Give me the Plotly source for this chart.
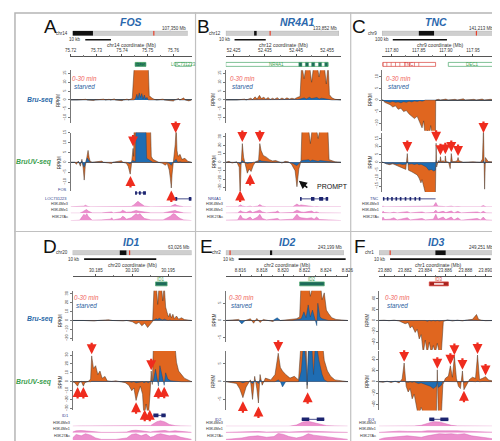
import plotly.graph_objects as go

FONT = "Liberation Sans, Arial, sans-serif"

# ======================= DATA =======================
letters = ["A", "B", "C", "D", "E", "F"]
gene_titles = ["FOS", "NR4A1", "TNC", "ID1", "ID2", "ID3"]
chrom_names = ["chr14", "chr12", "chr9", "chr20", "chr2", "chr1"]
chrom_len_mb = [107.350, 133.852, 141.213, 63.026, 243.199, 249.251]
chrom_len_labels = ["107,350 Mb", "133,852 Mb", "141,213 Mb", "63,026 Mb", "243,199 Mb", "249,251 Mb"]
centromere_mb = [(0.0, 19.0), (33.5, 36.5), (46.0, 65.0), (25.0, 28.5), (91.0, 95.5), (121.0, 143.0)]
gene_pos_mb = [75.747, 52.44, 117.83, 30.194, 8.823, 23.885]
window_start_mb = [75.720, 52.4225, 117.782, 30.18176, 8.81464, 23.87942]
window_kb = [47.1, 36.9, 212.6, 16.5, 11.4, 11.75]
scale_bar_kb = [10, 10, 100, 10, 10, 10]
scale_bar_start_kb = [5.7, 2.8, 20.0, 1.6, 1.2, 1.1]
tick_labels = [
    ["75.72", "75.73", "75.74", "75.75", "75.76"],
    ["52.425", "52.435", "52.445", "52.455"],
    ["117.80", "117.85", "117.90", "117.95"],
    ["30.185", "30.190", "30.195"],
    ["8.816", "8.818", "8.820", "8.822", "8.824", "8.826"],
    ["23.880", "23.882", "23.884", "23.886", "23.888", "23.890"],
]

# gene annotation track (top): (name, start kb, end kb)
top_genes = [
    [("FOS", 25.1, 29.3), ("LOC731223", 40.7, 47.1)],
    [("NR4A1", 0.0, 32.8)],
    [("TNC", 1.8, 99.0), ("DEC1", 122.5, 212.6)],
    [("ID1", 11.5, 13.1)],
    [("ID2", 6.9, 9.2)],
    [("ID3", 5.0, 6.9)],
]
nr4a1_exon_kb = [23.9, 26.0, 28.0, 30.2, 32.2]

# RefSeq gene models: (name, start kb, end kb, exons)
refseq = [
    [("FOS", 25.1, 29.3, [(25.1, 25.8), (26.6, 27.3), (28.2, 29.3)]),
     ("LOC731223", 40.7, 47.1, [(40.7, 41.5), (46.0, 47.1)])],
    [("NR4A1", 23.8, 32.8, [(23.8, 24.3), (27.3, 28.4), (29.9, 31.2), (32.0, 32.8)])],
    [("TNC", 1.8, 99.0, [(1.8, 4.5), (9, 12), (17, 20), (25, 28), (33, 36), (42, 45), (51, 54), (60, 63), (68, 71)])],
    [("ID1", 11.2, 12.9, [(11.2, 11.9), (12.3, 12.9)])],
    [("ID2", 7.1, 9.2, [(7.1, 7.8), (8.5, 9.2)])],
    [("ID3", 5.0, 6.9, [(5.0, 5.5), (6.1, 6.9)])],
]

# Bru-seq tracks: (kb, 0-30 min, starved)
A_bru = [(0,0,0),(2,0.3,0),(2.5,0,0),(6,0.4,0),(6.5,0,0),(9,-0.3,0),(9.5,0,0),(13,0.5,0),(13.5,0,0),(15,0.4,0),(15.5,0,0),
         (17,0.6,0.3),(17.5,0,0),(20,-0.4,0),(20.5,0,0),(22,0.5,0),(22.5,0,0),(24,0.8,0),(24.8,20,0),(25.3,20,1.0),(25.8,20,3.2),
         (26.2,20,0.8),(26.7,20,4.0),(27.2,20,1.5),(27.7,20,3.6),(28.2,20,0.6),(28.7,20,2.8),(29.2,20,0.5),(29.7,20,1.5),(30.2,20,0),
         (30.6,2.5,0),(31.5,1.2,0),(32.5,0.4,0),(33.5,0,0),(36,0.5,0),(36.5,0,0),(40,-0.6,-0.3),(40.5,0,0),(42,0.8,0.3),(42.5,0,0),
         (44,1.2,0),(44.6,0,0),(46,-0.5,0),(47.1,0,0)]
B_bru = [(0,0,0),(3,-0.3,0),(3.5,0,0),(6,0.5,0),(6.5,0,0),(8,1.0,0.2),(8.6,0.3,0),(9.4,1.8,0),(10,0.5,0),(10.8,2.6,0.3),(11.4,0.8,0),
         (12.2,1.6,0),(12.8,0.4,0),(13.6,1.4,0.2),(14.2,0.3,0),(15,1.0,0),(15.6,0.4,0),(16.5,1.3,0),(17.2,0.3,0),(18,1.1,0.2),(18.8,0.4,0),
         (19.6,1.2,0),(20.4,0.5,0),(21.2,1.0,0),(22,0.6,0),(23,1.5,0.3),(23.8,2.0,0.5),(24.3,20,0.8),(25.1,12,1.2),(25.8,20,0.6),
         (26.8,20,1.5),(27.5,10,0.8),(28.2,20,1.0),(29.2,20,1.4),(29.9,13,0.6),(30.6,20,1.0),(31.5,20,0.8),(32.2,9,0.5),(32.8,20,0.6),
         (33.2,3,0.2),(34,1.2,0),(35,0.4,0),(36.9,0,0)]
C_bru = [(0,0,0),(2,0,0),(5,-1,-0.5),(10,-1.5,-0.8),(15,-2,-1),(20,-3,-0.6),(25,-2.5,-1),(30,-4,-0.8),(35,-3.5,-1.2),(40,-5,-0.7),
         (45,-4.5,-1),(50,-6,-0.5),(55,-7,-0.8),(60,-8,-0.4),(65,-7,-0.6),(70,-10,-0.3),(74,-12,-0.5),(77,-9,-0.3),(80,-16,0),
         (84,-13,0),(87,-16,0),(90,-11,0),(93,-16,0),(96,-16,0),(98.8,-16,0),(99.2,0,0),(104,0.3,0.1),(108,0,0),(118,0.4,0.1),
         (122,0,0),(135,0.3,0),(139,0,0),(150,0.5,0.2),(154,0,0),(170,0.3,0),(174,0,0),(185,0.4,0.1),(189,0,0),(200,0.3,0),(212.6,0,0)]
D_bru = [(0,0,0),(1,0.5,0),(1.5,0,0),(3,-0.6,0),(3.5,0,0),(5,0.8,0.3),(5.5,0,0),(7,-0.5,0),(7.5,0,0),(8.3,-1.5,0),(8.8,-4,-0.5),
         (9.2,-2,0),(9.6,-6,-0.3),(10,-3,0),(10.4,-8,-0.5),(10.8,-4,0),(11.1,-1,0),(11.3,40,0.5),(11.6,40,2),(11.8,18,1),(12.0,40,2.5),
         (12.3,40,1),(12.5,22,0.5),(12.7,40,1.5),(12.9,15,0.5),(13.1,9,0.3),(13.3,4,0),(13.5,8,0.5),(13.7,3,0),(13.9,7,0.3),(14.1,2,0),
         (14.4,5,0),(14.7,1.5,0),(15.1,3,0),(15.5,1,0),(16,0.5,0),(16.5,0,0)]
E_bru = [(0,0,0),(1.2,0.3,0),(1.5,-0.4,-1.0),(1.8,0,0),(2.3,0.5,0),(2.6,-0.8,0),(2.9,0.6,0.2),(3.2,-0.6,0),(3.5,0.3,0),(4.4,-0.3,0),
         (4.8,0.4,0.8),(5.1,0,0),(6.2,0.3,0),(6.6,0.5,0.2),(6.9,1,0.3),(7.05,12,0.5),(7.3,12,2.5),(7.5,12,0.8),(7.7,12,4.5),(7.9,7,1),
         (8.1,12,3),(8.3,12,0.5),(8.5,12,-1.5),(8.6,9,5),(8.8,12,1),(9.0,6,0.5),(9.2,8,0.3),(9.4,3,0),(9.6,2,0),(9.9,0.8,0),(10.3,0.3,0),
         (11.4,0,0)]
F_bru = [(0,0,0),(0.5,0.5,0),(1,-0.5,0),(1.5,0.6,0.3),(2,-1,0),(2.3,-3,-0.5),(2.6,-6,-0.5),(2.9,-4,0),(3.1,-14,-1),(3.3,-10,0),
         (3.6,-22,-1),(3.8,-16,0),(4.0,-34,-1),(4.2,-26,0),(4.4,-60,-1),(4.6,-36,0),(4.8,-60,-1.5),(5.0,-40,0),(5.2,-60,-1),(5.4,-46,0),
         (5.6,-60,-1),(5.8,-42,0),(6.0,-60,-1),(6.2,-60,0),(6.4,-2,0),(6.8,1,0.5),(7.3,-1,0),(7.8,0.5,0.3),(8.3,-0.8,0),(8.8,1,0.5),
         (9.3,2,1),(9.7,11,0.5),(9.9,2,0),(10.2,0.5,0.3),(10.6,-0.5,0),(11.75,0,0)]

# BruUV-seq tracks: (kb, 0-30 min, starved)
A_uv = [(0,0,0),(1.5,0,0),(2.3,-1.0,0),(3.0,0.6,0),(3.8,-2,-0.8),(4.4,1.5,0.6),(4.9,-3,-1.5),(5.3,-9,-2.5),(5.7,-2,-0.5),(6.1,1,0.8),
        (6.5,3,2.2),(6.8,6,1.5),(7.2,2.5,0.5),(7.6,0.5,0),(8.4,0,0),(12.2,0.6,0),(12.7,0,0),(16,-0.6,0),(16.5,0,0),(19.8,0.8,0.3),
        (20.3,0,0),(21.7,-0.5,0),(22.4,-2,-0.3),(22.8,-4,-0.5),(23.2,-6,-0.8),(23.6,-2,0),(24.0,2,0.5),(24.3,7,1),(24.55,3,0.5),
        (24.7,18,0.5),(25.3,18,0.5),(25.4,18,18),(29.3,18,18),(29.6,18,2),(31.1,18,1),(31.4,3,0.5),(32,1.5,0),(33.1,0.8,0),(34.2,0,0),
        (35.7,-0.5,0),(36.9,-1.5,-0.3),(37.6,-0.5,0),(38.4,-4,-0.5),(38.8,-8,-1),(39.2,-13,-1.5),(39.5,-6,-0.5),(39.9,-2,0),(40.3,3,0.5),
        (40.7,9,1),(41.1,18,1.5),(41.4,6,0.5),(41.8,3,0),(42.6,4,0.3),(43.3,1.5,0),(44.5,2,0),(45.6,0.5,0),(47.1,0,0)]
B_uv = [(0,0,0),(1,1,0),(2,-1,0),(3.5,0.5,0),(4.3,-6,-1),(4.6,-40,-2.5),(4.9,-4,-0.5),(5.3,22,2),(5.7,6,0.5),(6.3,-4,-0.5),
        (6.9,-13,-1.5),(7.5,-8,-0.8),(8.1,-11,-1),(8.8,-4,0),(9.5,0.5,0),(10.5,2,0.5),(10.9,22,2.5),(11.3,14,1.5),(12,8,1),(13,6,0.5),
        (14,3,0.5),(15,1.5,0),(16,2,0.3),(17,0.5,0),(18,-1,0),(19,1,0),(20,0.5,0),(21,-2,-0.5),(21.6,-6,-1.5),(22.2,-10,-3),
        (22.8,-29,-4),(23.4,-8,-1.5),(23.8,-3,-0.5),(24.1,2,0.5),(24.4,40,2),(26.5,40,3),(27.1,22,1.5),(27.7,40,2.5),(29,40,1.5),
        (29.6,28,1),(30.2,40,2),(32.7,40,1),(33.1,3,0.3),(34,1.5,0),(35,0.5,0),(36.9,0,0)]
C_uv = [(0,0,0),(1.8,0,0),(8,-1,-0.8),(14,-1.5,-1),(20,-1,-0.6),(27,-2,-1.2),(32,-3,-1),(38,-3.5,-1.4),(44,-4.5,-1.2),(46.8,5.5,0.5),
        (49,-5,-1.3),(55,-6,-1),(60,-7,-1.4),(65,-8,-1),(68.5,-10,-1.6),(72,-13,-1.2),(74,-11,-1.5),(77.5,-16,-2),(82,-22,-3),
        (86.5,-19,-5),(91,-22,-4.5),(95.5,-22,-5.5),(98.6,-22,-5),(99.4,-3,-0.5),(100,12,1),(100.9,-3,-0.3),(104,1,0),(107,0.5,0),
        (108,3.5,0.3),(109.5,0.5,0),(113,1,0),(116,0,0),(117,4,0.3),(118.5,0.5,0),(123,0,0),(126,-4,-0.5),(128,5.5,0.5),(130,0.5,0),
        (135,0.5,0),(139,1,0),(140.5,3,0.3),(142,1,0),(150,0,0),(168,0.3,0),(182,0,0),(185.5,2,0),(187.4,22,1),(189.5,-17,-1),
        (191,3,0),(196,0.5,0),(212.6,0,0)]
D_uv = [(0,0,0),(0.3,-1,0),(0.7,-5,-0.5),(0.9,-1,0),(1.2,0.5,0),(1.5,-5,-0.5),(1.7,-1,0),(2.2,0.5,0),(2.5,3,0),(2.65,29,0.5),
        (2.9,15,0.5),(3.2,18,0.3),(3.5,8,0),(3.8,12,0),(4.1,4,0),(4.5,6,0),(4.8,1,0),(5.4,0.5,0),(6,1,0),(6.5,0,0),(7.3,-1,0),
        (7.8,-4,0),(8.2,-10,-0.5),(8.5,-7,0),(8.8,-21,-1),(9.1,-12,-0.5),(9.4,-5,0),(9.7,-14,0),(9.9,-40,-1),(10.2,-25,0),
        (10.5,-40,-1),(10.75,-12,0),(10.9,12,1),(11.05,-3,0),(11.2,40,1),(11.5,40,14),(11.7,40,6),(11.9,40,-5),(12.1,40,18),
        (12.4,40,8),(12.7,40,-4),(12.9,40,10),(13.2,40,3),(13.6,40,1),(14.2,40,0.5),(14.4,22,0),(14.7,12,0),(15.1,8,0),(15.5,4,0),
        (16,2,0),(16.5,0,0)]
E_uv = [(0,0,0),(1.0,-0.5,0),(1.3,-2,0),(1.6,-4.5,-0.3),(1.9,-1.5,0),(2.3,0.5,0),(2.5,-5,-0.5),(2.7,1.5,0.3),(2.9,-2,0),
        (3.05,-6,-0.5),(3.2,2,0.5),(3.4,-1,0),(3.7,1,0),(4.2,0.5,0),(4.6,2,0),(4.9,8,0.5),(5.1,4,0),(5.3,3,-1.5),(5.6,2,0),(6.0,1,0),
        (6.4,1.5,0),(6.8,0.5,0),(7.05,12,3),(7.3,12,12),(7.5,12,5),(7.6,-2,-1),(7.75,12,10),(8.0,12,12),(8.2,12,2),(8.4,12,12),
        (8.7,12,6),(9.0,12,2),(9.2,6,0.5),(9.5,3,0),(9.8,1.5,0),(10.2,0.5,0),(11.4,0,0)]
F_uv = [(0,0,0),(0.4,-1,0),(0.8,1,0),(1.2,-1.5,0),(1.6,1,0.5),(2.0,-2,0),(2.3,5,0),(2.5,33,1),(2.7,-8,-0.5),(2.9,-18,-1),
        (3.1,-12,0),(3.3,-30,-1),(3.5,-22,0),(3.7,-40,-2),(3.9,-60,-3),(4.2,-45,-2),(4.5,-60,-4),(4.8,-55,-6),(5.1,-60,-8),
        (5.4,-60,-12),(5.7,-60,-8),(5.8,21,1),(5.9,-60,-10),(6.2,-60,-6),(6.35,-5,0),(6.6,6,0.5),(6.9,10,0.5),(7.1,28,1),(7.3,8,0.5),
        (7.5,45,1),(7.7,6,0),(7.9,-8,0),(8.1,-12,-0.5),(8.3,19,1),(8.45,-14,-1),(8.7,-6,0),(9.0,4,0.5),(9.3,8,0.5),(9.6,6,0),
        (9.8,47,1),(10.0,4,0),(10.3,6,0.5),(10.6,9,0.5),(10.9,3,0),(11.3,1,0),(11.75,0,0)]

# histone ChIP tracks: (kb, H3K4Me3, H3K4Me1, H3K27Ac)
A_hist = [(0,0,0,0),(3.5,0,0,0.05),(4.6,0.05,0.2,0.6),(5.2,0.1,0.4,0.9),(5.7,0.25,0.5,0.7),(6.3,0.1,0.6,1.0),(6.8,0.05,0.35,0.6),
          (7.6,0,0.2,0.3),(8.4,0,0.05,0.05),(12,0,0.05,0.1),(15.5,0,0.1,0.2),(16,0.1,0.2,0.4),(16.6,0,0.05,0.1),(19.5,0,0.2,0.3),
          (20.2,0.05,0.5,0.6),(20.9,0.05,0.3,0.5),(21.7,0,0.15,0.2),(23.6,0.05,0.2,0.4),(24.6,0.3,0.3,0.7),(25.5,0.7,0.45,1.0),
          (26.2,0.9,0.35,0.8),(27,0.6,0.3,1.0),(27.8,0.35,0.2,0.6),(28.8,0.1,0.1,0.3),(31.2,0,0.05,0.1),(36,0,0.05,0.1),
          (38.8,0.05,0.3,0.6),(39.9,0.25,0.5,1.0),(40.7,0.4,0.45,0.9),(41.4,0.2,0.3,0.6),(42.6,0.05,0.15,0.3),(44,0,0.05,0.1),(47.1,0,0,0)]
B_hist = [(0,0,0,0.05),(3.8,0,0.05,0.1),(4.7,0.3,0.4,0.8),(5.4,0.1,0.2,0.3),(6.5,0,0.1,0.2),(7.8,0.1,0.4,0.5),(8.6,0,0.1,0.15),
          (10.2,0.1,0.3,0.5),(10.9,0.35,0.5,0.9),(11.7,0.1,0.2,0.3),(13,0,0.05,0.1),(16,0,0.2,0.2),(16.6,0.05,0.35,0.3),(17.3,0,0.05,0.1),
          (21.5,0,0.1,0.2),(22.8,0.45,0.5,0.9),(23.5,0.2,0.3,0.5),(24.1,0.3,0.2,0.4),(25,0.25,0.15,0.35),(26,0.1,0.2,0.3),
          (27.5,0.05,0.35,0.4),(28.3,0,0.1,0.2),(29.1,0.05,0.2,0.5),(30,0,0.05,0.15),(33,0,0.05,0.1),(36.9,0,0,0)]
C_hist = [(0,0,0,0),(1.8,0.1,0.3,0.5),(5,0,0.1,0.15),(15,0,0.05,0.2),(22,0.05,0.15,0.4),(28,0,0.05,0.1),(46.8,0.1,0.25,0.4),
          (52,0,0.05,0.1),(74,0.05,0.2,0.3),(80,0,0.05,0.1),(95,0.1,0.1,0.2),(99.5,0.7,0.5,0.9),(103,0.1,0.1,0.2),(113,0.05,0.3,0.5),
          (118,0,0.1,0.15),(128,0.1,0.35,0.5),(133,0,0.05,0.1),(140,0.05,0.3,0.4),(146,0,0.05,0.05),(170,0,0.1,0.2),(176,0,0.2,0.3),
          (182,0,0.05,0.1),(187,0.2,0.3,0.5),(192,0,0.05,0.1),(212.6,0,0,0)]
D_hist = [(0,0,0.1,0.3),(0.5,0.05,0.3,0.8),(1.2,0.05,0.35,0.6),(1.8,0.05,0.3,0.9),(2.5,0.05,0.2,0.7),(3.2,0,0.1,0.3),(4,0,0.05,0.1),
          (6,0,0.05,0.1),(7.5,0,0.1,0.3),(8.2,0.05,0.35,0.8),(8.8,0.05,0.4,0.9),(9.5,0.05,0.3,0.6),(10.2,0.05,0.2,0.85),(10.8,0.1,0.1,0.4),
          (11.2,0.4,0.2,0.5),(11.7,0.75,0.3,0.8),(12.2,0.9,0.3,0.9),(12.8,0.7,0.35,0.8),(13.4,0.3,0.2,0.6),(14.2,0.1,0.3,0.7),
          (15,0.05,0.2,0.4),(16.5,0,0.05,0.1)]
E_hist = [(0,0,0.05,0.1),(1.5,0,0.1,0.3),(2.2,0.05,0.15,0.5),(3.0,0.05,0.2,0.6),(3.8,0,0.1,0.4),(4.5,0.05,0.15,0.5),(4.9,0.1,0.2,0.95),
          (5.4,0.05,0.15,0.8),(5.9,0,0.1,0.5),(6.6,0.2,0.1,0.3),(7.2,0.7,0.2,0.5),(7.7,0.8,0.25,0.9),(8.2,0.6,0.2,0.7),(8.8,0.3,0.15,0.6),
          (9.4,0.1,0.1,0.4),(10.2,0.05,0.1,0.3),(11.4,0,0.05,0.1)]
F_hist = [(0,0,0.05,0.1),(0.5,0,0.1,0.3),(1.2,0,0.2,0.4),(2,0.05,0.25,0.5),(2.8,0.05,0.2,0.6),(3.5,0.05,0.15,0.5),(4.2,0.15,0.2,0.4),
          (4.8,0.5,0.3,0.6),(5.4,0.75,0.35,0.8),(6.0,0.7,0.3,0.9),(6.6,0.4,0.3,0.85),(7.2,0.15,0.35,0.9),(7.8,0.05,0.3,0.8),
          (8.5,0.05,0.25,0.9),(9.2,0,0.2,0.6),(10,0,0.15,0.5),(10.8,0,0.1,0.3),(11.75,0,0.05,0.1)]

# red arrows on BruUV-seq: (kb, RPKM at tip, direction)
A_arrows = [(24.3, 8, "down"), (23.3, -7, "up"), (40.9, 14.8, "down"), (39.2, -14.3, "up")]
B_arrows = [(5.3, 24, "down"), (10.9, 24, "down"), (7.8, -14, "up"), (4.6, -33.5, "up")]
C_arrows = [(46.8, 6.5, "down"), (100, 13, "down"), (108, 4.5, "down"), (117, 5, "down"), (128, 6.5, "down"),
            (140.5, 4, "down"), (187.4, 18.5, "down")]
D_arrows = [(0.7, -6, "up"), (1.5, -6, "up"), (2.65, 31, "down"), (8.8, -23, "up"), (10.0, -31.5, "up"),
            (10.7, -31.5, "up"), (10.9, 13, "down"), (11.9, -6, "up"), (12.7, -5.5, "up")]
E_arrows = [(1.6, -5.5, "up"), (3.05, -7, "up"), (4.9, 8.4, "down"), (7.65, -3, "up")]
F_arrows = [(2.5, 35, "down"), (5.8, 23, "down"), (7.1, 30, "down"), (7.5, 47, "down"), (8.3, 21, "down"),
            (9.8, 49, "down"), (10.6, 11, "down"), (8.45, -16, "up")]

bru_tracks = [A_bru, B_bru, C_bru, D_bru, E_bru, F_bru]
uv_tracks = [A_uv, B_uv, C_uv, D_uv, E_uv, F_uv]
hist_tracks = [A_hist, B_hist, C_hist, D_hist, E_hist, F_hist]
arrow_sets = [A_arrows, B_arrows, C_arrows, D_arrows, E_arrows, F_arrows]
hist_names = ["H3K4Me3", "H3K4Me1", "H3K27Ac"]
prompt_tip = (23.4, -22)   # panel B, BruUV-seq

# ======================= LAYOUT (pixels) =======================
W, H = 500, 441
cfg = [
    dict(off=0, d0=58, d1=182, bar=(60, 178), lx=37, tx=120, mx=72,
         bru=(59, 112), uv=(122, 181), bru_rng=(-12.8, 16.7), bru_t=[-10, -5, 0, 5, 10, 15],
         uv_rng=(-14.5, 15), uv_t=[-10, -5, 0, 5, 10, 15], ref_y=[183, 189]),
    dict(off=0, d0=217, d1=335, bar=(217, 333), lx=194, tx=290, mx=234,
         bru=(59, 112), uv=(122, 181), bru_rng=(-12.8, 16.7), bru_t=[-10, -5, 0, 5, 10, 15],
         uv_rng=(-34, 35), uv_t=[-30, -20, -10, 0, 10, 20, 30], ref_y=[189]),
    dict(off=0, d0=377, d1=495, bar=(377, 493), lx=353, tx=432, mx=394,
         bru=(59, 120), uv=(122, 182), bru_rng=(-13.2, 12.8), bru_t=[-10, -5, 0, 5, 10],
         uv_rng=(-18.75, 18.75), uv_t=[-15, -10, -5, 0, 5, 10, 15], ref_y=[189]),
    dict(off=222, d0=60, d1=182, bar=(60, 182), lx=37, tx=120, mx=74,
         bru=(60, 111), uv=(121, 181), bru_rng=(-23.3, 33.3), bru_t=[-20, -10, 0, 10, 20, 30],
         uv_rng=(-32.2, 34.4), uv_t=[-30, -20, -10, 0, 10, 20, 30], ref_y=[186]),
    dict(off=222, d0=217, d1=342, bar=(217, 338), lx=197, tx=280, mx=233,
         bru=(60, 112), uv=(121, 181), bru_rng=(-6.3, 8.6), bru_t=[-5, 0, 5],
         uv_rng=(-8.1, 8.6), uv_t=[-5, 0, 5], ref_y=[190]),
    dict(off=222, d0=374, d1=495, bar=(374, 493), lx=355, tx=433, mx=393,
         bru=(60, 120), uv=(121, 181), bru_rng=(-54.5, 54.5), bru_t=[-40, -20, 0, 20, 40],
         uv_rng=(-50.4, 53.9), uv_t=[-40, -20, 0, 20, 40], ref_y=[190]),
]
hist_dom = [(190.5, 197), (197, 203.5), (203.5, 211)]

ORANGE = "#e0661f"
BLUE = "#1f6db3"
PINK = "#ec8fcd"
PINK_L = "#d868b4"
RED = "#ef2c1e"
TEAL = "#1d6a5a"
GREEN = "#3f9f52"
NAVY = "#1c2470"
TBLUE = "#2b68ad"


def fx(p):
    return p / W


def fy(p):
    return 1 - p / H


def XN(n):
    return "x" if n == 1 else "x%d" % n


def YN(n):
    return "y" if n == 1 else "y%d" % n


def XK(n):
    return "xaxis" if n == 1 else "xaxis%d" % n


def YK(n):
    return "yaxis" if n == 1 else "yaxis%d" % n


fig = go.Figure()
L = dict(width=W, height=H, margin=dict(l=0, r=0, t=0, b=0), paper_bgcolor="white",
         plot_bgcolor="rgba(0,0,0,0)", showlegend=False, barmode="overlay",
         font=dict(family=FONT, color="#222"))
ann = []
shp = []


def text(x, y, s, size, color="#222", xa="center", ya="middle", angle=0):
    ann.append(dict(x=fx(x), y=fy(y), xref="paper", yref="paper", text=s, showarrow=False,
                    font=dict(size=size, color=color, family=FONT), xanchor=xa, yanchor=ya,
                    textangle=angle))


for i, c in enumerate(cfg):
    off = c["off"]
    gx, ix = 2 * i + 1, 2 * i + 2
    yI, yB, yU, yH1, yH2, yH3 = [6 * i + k for k in range(1, 7)]
    start = window_start_mb[i]
    win = window_kb[i]
    tv = [(float(t) - start) * 1000 for t in tick_labels[i]]
    mv = [(a + b) / 2 for a, b in zip(tv[:-1], tv[1:])]
    pxkb = (c["d1"] - c["d0"]) / win

    # genomic coordinate axis
    L[XK(gx)] = dict(domain=[fx(c["d0"]), fx(c["d1"])], range=[0, win], anchor="free",
                     position=fy(off + 45), side="top", showline=True, linecolor="#555", linewidth=0.7,
                     ticks="outside", ticklen=2.5, tickwidth=0.6, tickcolor="#555", tickmode="array",
                     tickvals=tv, ticktext=tick_labels[i], tickfont=dict(size=4.5, color="#333"),
                     showgrid=False, zeroline=False, fixedrange=True,
                     minor=dict(tickmode="array", tickvals=mv, ticks="outside", ticklen=1.5,
                                tickwidth=0.5, tickcolor="#777", showgrid=False))
    # ideogram
    L[XK(ix)] = dict(domain=[fx(c["bar"][0]), fx(c["bar"][1])], range=[0, chrom_len_mb[i]],
                     visible=False, anchor=YN(yI), fixedrange=True)
    L[YK(yI)] = dict(domain=[fy(off + 24), fy(off + 19)], range=[-0.5, 0.5], visible=False,
                     anchor=XN(ix), fixedrange=True)
    fig.add_trace(go.Bar(x=[chrom_len_mb[i]], base=[0], y=[0], orientation="h", width=1,
                         marker=dict(color="#cfcfcf", line=dict(color="#a3a3a3", width=0.5)),
                         xaxis=XN(ix), yaxis=YN(yI), hoverinfo="skip"))
    cs, ce = centromere_mb[i]
    fig.add_trace(go.Bar(x=[ce - cs], base=[cs], y=[0], orientation="h", width=1,
                         marker=dict(color="#111", line=dict(width=0)),
                         xaxis=XN(ix), yaxis=YN(yI), hoverinfo="skip"))
    fig.add_trace(go.Scatter(x=[gene_pos_mb[i], gene_pos_mb[i]], y=[-0.5, 0.5], mode="lines",
                             line=dict(color="#e8412c", width=1.2), xaxis=XN(ix), yaxis=YN(yI),
                             hoverinfo="skip"))
    text(c["bar"][0] - 3, off + 21.5, chrom_names[i], 4.5, "#333", xa="right")
    text(c["bar"][1], off + 16.5, chrom_len_labels[i], 4.5, "#333", xa="right")

    # letters / titles
    text(c["lx"], off + 15, letters[i], 19, "#111")
    text(c["tx"], off + 10.5, "<b><i>%s</i></b>" % gene_titles[i], 10.5, TBLUE)

    # scale bar
    s0 = scale_bar_start_kb[i]
    shp.append(dict(type="line", xref=XN(gx), yref="paper", x0=s0, x1=s0 + scale_bar_kb[i],
                    y0=fy(off + 28), y1=fy(off + 28), line=dict(color="#111", width=1.6)))
    text(c["d0"] + s0 * pxkb - 2, off + 28, "%d kb" % scale_bar_kb[i], 4.5, "#333", xa="right")
    text((c["d0"] + c["d1"]) / 2, off + 33.5, "%s coordinate (Mb)" % chrom_names[i], 5, "#333")

    # top gene track
    for (name, gs, ge) in top_genes[i]:
        red = name in ("TNC", "ID3")
        filled = name in ("FOS", "ID1", "ID2", "ID3")
        col = "#d8413a" if red else "#4aa86a"
        fill = ("#a8231f" if red else TEAL) if filled else "white"
        shp.append(dict(type="rect", xref=XN(gx), yref="paper", x0=gs, x1=ge,
                        y0=fy(off + 55), y1=fy(off + 51), fillcolor=fill,
                        line=dict(color=col, width=0.7)))
        ann.append(dict(x=(gs + ge) / 2, y=fy(off + 48.5), xref=XN(gx), yref="paper", text=name,
                        showarrow=False, font=dict(size=4.5, color=("#d8413a" if red else GREEN), family=FONT)))
        if name == "ID3":
            shp.append(dict(type="rect", xref=XN(gx), yref="paper", x0=gs + 0.25 * (ge - gs),
                            x1=ge - 0.25 * (ge - gs), y0=fy(off + 54), y1=fy(off + 52),
                            fillcolor="#f6d6d6", line=dict(width=0)))
        if name == "TNC":
            for (es, ee) in refseq[i][0][3]:
                shp.append(dict(type="line", xref=XN(gx), yref="paper", x0=es, x1=es,
                                y0=fy(off + 55), y1=fy(off + 51), line=dict(color=col, width=0.6)))
        if name == "NR4A1":
            for ek in nr4a1_exon_kb:
                shp.append(dict(type="rect", xref=XN(gx), yref="paper", x0=ek - 0.5, x1=ek + 0.5,
                                y0=fy(off + 55), y1=fy(off + 51), fillcolor=TEAL,
                                line=dict(color="#4aa86a", width=0.5)))

    # Bru-seq and BruUV-seq tracks
    for (yn, dom, rng, tks, data) in [(yB, c["bru"], c["bru_rng"], c["bru_t"], bru_tracks[i]),
                                       (yU, c["uv"], c["uv_rng"], c["uv_t"], uv_tracks[i])]:
        L[YK(yn)] = dict(domain=[fy(off + dom[1]), fy(off + dom[0])], range=list(rng), anchor=XN(gx),
                         showline=True, linecolor="#777", linewidth=0.6, ticks="outside", ticklen=2,
                         tickwidth=0.5, tickcolor="#777", tickmode="array", tickvals=tks,
                         tickfont=dict(size=4, color="#333"), tickangle=-90, zeroline=True,
                         zerolinecolor="#555", zerolinewidth=0.8, showgrid=False, fixedrange=True)
        xs = [p[0] for p in data]
        fig.add_trace(go.Scatter(x=xs, y=[p[1] for p in data], mode="lines", fill="tozeroy",
                                 fillcolor=ORANGE, line=dict(color="#4a3628", width=0.5),
                                 xaxis=XN(gx), yaxis=YN(yn), hoverinfo="skip"))
        fig.add_trace(go.Scatter(x=xs, y=[p[2] for p in data], mode="lines", fill="tozeroy",
                                 fillcolor=BLUE, line=dict(color="#173e6a", width=0.4),
                                 xaxis=XN(gx), yaxis=YN(yn), hoverinfo="skip"))
        zero_px = off + dom[0] + rng[1] / (rng[1] - rng[0]) * (dom[1] - dom[0])
        text(c["d0"] - 12, zero_px, "RPKM", 4.5, "#333", angle=-90)

    text(c["mx"], off + 67, "<i>0-30 min</i>", 6.3, "#f0645a")
    text(c["mx"], off + 75, "<i>starved</i>", 6.3, "#2a5da0")

    # arrows
    for (ak, av, d) in arrow_sets[i]:
        ann.append(dict(x=ak, y=av, xref=XN(gx), yref=YN(yU), ax=0, ay=(-13 if d == "down" else 13),
                        showarrow=True, arrowhead=2, arrowsize=0.9, arrowwidth=2.2, arrowcolor=RED, text=""))

    # RefSeq gene models
    for k, (name, rs, re_, exons) in enumerate(refseq[i]):
        yy = off + c["ref_y"][k]
        shp.append(dict(type="line", xref=XN(gx), yref="paper", x0=rs, x1=re_, y0=fy(yy), y1=fy(yy),
                        line=dict(color=NAVY, width=0.8)))
        for (es, ee) in exons:
            shp.append(dict(type="rect", xref=XN(gx), yref="paper", x0=es, x1=ee, y0=fy(yy + 1.8),
                            y1=fy(yy - 1.8), fillcolor=NAVY, line=dict(width=0)))
        text(c["d0"] - 2, yy - (3 if (i == 0 and k == 0) else 0), name, 4, "#2b3a8a", xa="right")

    # histone tracks
    hx = [p[0] for p in hist_tracks[i]]
    for k, yn in enumerate([yH1, yH2, yH3]):
        dom = hist_dom[k]
        L[YK(yn)] = dict(domain=[fy(off + dom[1]), fy(off + dom[0])], range=[0, 1.05], anchor=XN(gx),
                         visible=False, fixedrange=True)
        fig.add_trace(go.Scatter(x=hx, y=[p[k + 1] for p in hist_tracks[i]], mode="lines", fill="tozeroy",
                                 fillcolor=PINK, line=dict(color=PINK_L, width=0.5),
                                 xaxis=XN(gx), yaxis=YN(yn), hoverinfo="skip"))
        text(c["d0"] - 1, off + (dom[0] + dom[1]) / 2, hist_names[k], 3.8, "#333", xa="right")

    if i == 1:
        ann.append(dict(x=prompt_tip[0], y=prompt_tip[1], xref=XN(gx), yref=YN(yU), ax=10, ay=8,
                        showarrow=True, arrowhead=2, arrowsize=0.9, arrowwidth=1.8, arrowcolor="#111", text=""))
        text(308, 177, "PROMPT", 7, "#111", xa="left")

# row labels
for off in (0, 222):
    text(27, off + 89, "<b><i>Bru-seq</i></b>", 6.8, "#2b6aa8")
    text(21, off + 152, "<b><i>BruUV-seq</i></b>", 6.8, "#3a9e4e")

# panel frame and dividers
shp.append(dict(type="rect", xref="paper", yref="paper", x0=fx(1), x1=fx(499), y0=fy(440), y1=fy(1),
                line=dict(color="#b5b5b5", width=1.5), fillcolor="rgba(0,0,0,0)", layer="below"))
for xv in (186, 345):
    shp.append(dict(type="line", xref="paper", yref="paper", x0=fx(xv), x1=fx(xv), y0=0, y1=1,
                    line=dict(color="#c0c0c0", width=1.2), layer="below"))
shp.append(dict(type="line", xref="paper", yref="paper", x0=0, x1=1, y0=fy(222), y1=fy(222),
                line=dict(color="#c0c0c0", width=1.2), layer="below"))

L["annotations"] = ann
L["shapes"] = shp
fig.update_layout(**L)
fig.write_html("out.html")
